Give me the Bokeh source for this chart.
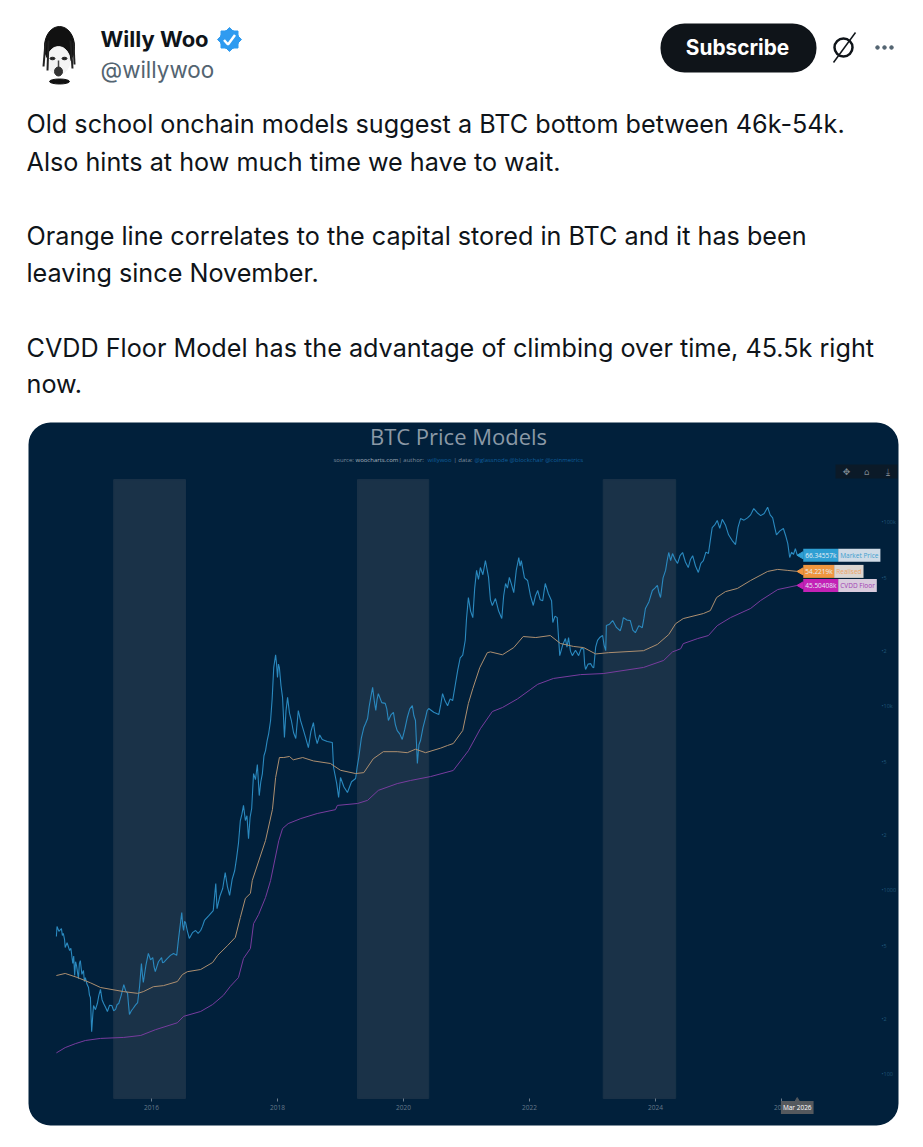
"""BTC price models tweet card, redrawn with Bokeh."""

from math import pi

from bokeh.core.properties import value
from bokeh.embed import file_html
from bokeh.models import BoxAnnotation, FixedTicker, Label, LinearScale, Range1d
from bokeh.plotting import figure
from bokeh.resources import INLINE

# chart data
price_years = [
    2014.49, 2014.50, 2014.53, 2014.57, 2014.585, 2014.60, 2014.62, 2014.63, 2014.66, 2014.70,
    2014.72, 2014.75, 2014.765, 2014.78, 2014.795, 2014.81, 2014.825, 2014.84, 2014.855, 2014.87,
    2014.895, 2014.92, 2014.935, 2014.95, 2014.975, 2015.00, 2015.015, 2015.03, 2015.05, 2015.07,
    2015.08, 2015.11, 2015.14, 2015.165, 2015.19, 2015.215, 2015.24, 2015.27, 2015.30, 2015.335,
    2015.37, 2015.40, 2015.43, 2015.455, 2015.48, 2015.52, 2015.56, 2015.59, 2015.62, 2015.635,
    2015.65, 2015.68, 2015.71, 2015.745, 2015.78, 2015.81, 2015.84, 2015.855, 2015.87, 2015.91,
    2015.95, 2015.985, 2016.02, 2016.04, 2016.06, 2016.11, 2016.16, 2016.175, 2016.19, 2016.245,
    2016.30, 2016.35, 2016.40, 2016.43, 2016.48, 2016.495, 2016.51, 2016.525, 2016.54, 2016.57,
    2016.60, 2016.65, 2016.70, 2016.74, 2016.78, 2016.81, 2016.84, 2016.91, 2016.98, 2017.02,
    2017.04, 2017.085, 2017.13, 2017.17, 2017.205, 2017.24, 2017.28, 2017.32, 2017.35, 2017.38,
    2017.41, 2017.435, 2017.46, 2017.49, 2017.515, 2017.54, 2017.565, 2017.59, 2017.62, 2017.65,
    2017.68, 2017.71, 2017.735, 2017.76, 2017.785, 2017.81, 2017.835, 2017.86, 2017.89, 2017.915,
    2017.94, 2017.97, 2017.985, 2018.00, 2018.015, 2018.03, 2018.055, 2018.08, 2018.095, 2018.11,
    2018.135, 2018.16, 2018.19, 2018.22, 2018.255, 2018.29, 2018.31, 2018.33, 2018.365, 2018.40,
    2018.445, 2018.49, 2018.53, 2018.57, 2018.60, 2018.63, 2018.67, 2018.71, 2018.79, 2018.87,
    2018.89, 2018.94, 2018.97, 2019.00, 2019.055, 2019.11, 2019.175, 2019.24, 2019.265, 2019.29,
    2019.33, 2019.37, 2019.40, 2019.43, 2019.455, 2019.48, 2019.51, 2019.535, 2019.56, 2019.58,
    2019.60, 2019.655, 2019.71, 2019.735, 2019.76, 2019.80, 2019.84, 2019.87, 2019.90, 2019.94,
    2019.98, 2020.02, 2020.06, 2020.10, 2020.14, 2020.165, 2020.19, 2020.22, 2020.245, 2020.27,
    2020.31, 2020.35, 2020.375, 2020.40, 2020.48, 2020.56, 2020.59, 2020.62, 2020.66, 2020.70,
    2020.74, 2020.78, 2020.82, 2020.86, 2020.88, 2020.90, 2020.94, 2020.98, 2021.00, 2021.03,
    2021.065, 2021.10, 2021.13, 2021.16, 2021.19, 2021.22, 2021.26, 2021.30, 2021.325, 2021.35,
    2021.38, 2021.41, 2021.435, 2021.46, 2021.51, 2021.56, 2021.59, 2021.62, 2021.65, 2021.68,
    2021.715, 2021.75, 2021.79, 2021.83, 2021.85, 2021.87, 2021.92, 2021.97, 2022.015, 2022.06,
    2022.095, 2022.13, 2022.17, 2022.21, 2022.23, 2022.25, 2022.30, 2022.35, 2022.37, 2022.405,
    2022.44, 2022.46, 2022.48, 2022.525, 2022.57, 2022.595, 2022.62, 2022.65, 2022.68, 2022.73,
    2022.78, 2022.82, 2022.86, 2022.875, 2022.89, 2022.93, 2022.97, 2023.00, 2023.02, 2023.05,
    2023.08, 2023.12, 2023.16, 2023.185, 2023.21, 2023.22, 2023.27, 2023.32, 2023.38, 2023.44,
    2023.465, 2023.49, 2023.545, 2023.60, 2023.64, 2023.68, 2023.735, 2023.79, 2023.815, 2023.84,
    2023.895, 2023.95, 2023.99, 2024.03, 2024.055, 2024.08, 2024.12, 2024.16, 2024.185, 2024.21,
    2024.24, 2024.27, 2024.31, 2024.35, 2024.39, 2024.43, 2024.475, 2024.52, 2024.555, 2024.59,
    2024.635, 2024.68, 2024.72, 2024.76, 2024.80, 2024.84, 2024.87, 2024.90, 2024.94, 2024.98,
    2025.02, 2025.06, 2025.11, 2025.16, 2025.215, 2025.27, 2025.31, 2025.35, 2025.405, 2025.46,
    2025.51, 2025.56, 2025.615, 2025.67, 2025.725, 2025.78, 2025.82, 2025.86, 2025.89, 2025.92,
    2025.975, 2026.03, 2026.065, 2026.10, 2026.13, 2026.16, 2026.19, 2026.22, 2026.25,
]
price_values = [
    562, 637, 600, 621, 570, 584, 540, 490, 520, 472,
    485, 401, 440, 345, 410, 391, 360, 332, 400, 416,
    350, 367, 320, 336, 310, 297, 270, 262, 171, 215,
    237, 225, 243, 270, 290, 255, 243, 232, 220, 238,
    237, 222, 226, 240, 243, 270, 308, 285, 276, 240,
    212, 222, 229, 238, 246, 300, 401, 350, 316, 390,
    455, 420, 432, 385, 362, 410, 432, 405, 406, 425,
    444, 455, 444, 549, 759, 650, 606, 680, 670, 600,
    549, 590, 606, 585, 606, 640, 687, 730, 778, 1090,
    797, 930, 1025, 1250, 1050, 940, 1150, 1280, 1500, 1800,
    2400, 2600, 2900, 2400, 2550, 1910, 2500, 2790, 4320, 4000,
    4840, 3280, 3900, 4320, 5400, 5760, 6500, 7130, 8390, 11000,
    16250, 19100, 17000, 14400, 17000, 16250, 13000, 11200, 8800, 6780,
    9500, 11200, 9200, 8390, 7200, 6700, 8000, 9510, 8400, 7680,
    6800, 5980, 7300, 8180, 6900, 6290, 7000, 6620, 6450, 6370,
    4660, 3810, 3200, 4110, 3650, 3410, 3900, 4060, 4700, 5280,
    6700, 7680, 8100, 8600, 10000, 11200, 12700, 10800, 9510, 10900,
    11750, 10500, 10400, 9700, 8390, 9000, 9280, 8000, 7400, 7100,
    6620, 7500, 8710, 9700, 10100, 8900, 8390, 4900, 6200, 6530,
    7700, 8710, 9500, 9750, 9300, 9040, 10200, 11750, 10700, 10100,
    11000, 10770, 13000, 15700, 17000, 18400, 19000, 22900, 30000, 39100,
    33000, 30400, 44000, 54900, 49000, 56900, 52000, 62100, 56000, 50300,
    38000, 35400, 37000, 38600, 33000, 30100, 40000, 46600, 44000, 50300,
    46000, 41600, 55000, 64500, 58000, 62100, 50000, 48400, 40000, 35400,
    40000, 42700, 38000, 37600, 42000, 46600, 41000, 37600, 28600, 31000,
    30400, 24000, 18900, 21500, 23400, 21000, 23700, 20000, 18900, 20200,
    18900, 20700, 20600, 17000, 15900, 17000, 17100, 16400, 16250, 21000,
    22900, 23800, 24300, 21500, 20100, 27550, 28000, 29300, 26900, 25800,
    27500, 30400, 29500, 29300, 26000, 25200, 27500, 26800, 30000, 34100,
    37000, 42700, 44000, 45500, 41500, 39100, 50000, 54900, 62000, 68700,
    62000, 67800, 63000, 59900, 66000, 68700, 61000, 56900, 63000, 66000,
    58000, 53500, 60000, 62100, 69000, 67800, 80000, 93900, 97000, 102500,
    93000, 104000, 97000, 85700, 80000, 75900, 94000, 105000, 103000, 106000,
    110000, 119000, 113000, 109000, 112000, 121000, 110000, 106000, 95000, 85700,
    90000, 92800, 85000, 76800, 64500, 69000, 67000, 72000, 66345.57,
]

realised_years = [
    2014.49, 2014.63, 2014.83, 2015.03, 2015.19, 2015.56, 2015.78, 2015.87, 2016.03, 2016.19,
    2016.41, 2016.49, 2016.57, 2016.78, 2016.97, 2017.05, 2017.21, 2017.33, 2017.41, 2017.49,
    2017.57, 2017.60, 2017.81, 2017.92, 2017.97, 2018.03, 2018.10, 2018.19, 2018.25, 2018.40,
    2018.57, 2018.84, 2019.00, 2019.24, 2019.37, 2019.52, 2019.68, 2019.90, 2020.06, 2020.19,
    2020.35, 2020.59, 2020.70, 2020.79, 2020.94, 2021.03, 2021.10, 2021.21, 2021.33, 2021.38,
    2021.57, 2021.75, 2021.90, 2022.10, 2022.33, 2022.49, 2022.70, 2022.86, 2023.05, 2023.25,
    2023.81, 2024.03, 2024.21, 2024.32, 2024.44, 2024.76, 2024.87, 2024.97, 2025.11, 2025.30,
    2025.51, 2025.78, 2025.94, 2026.10, 2026.25,
]
realised_values = [
    345, 354, 336, 315, 297, 282, 276, 282, 300, 304,
    320, 349, 362, 372, 406, 444, 503, 556, 713, 907,
    964, 1135, 1870, 2760, 4110, 5280, 5280, 5350, 5130, 5280,
    5060, 4900, 4500, 4320, 4370, 5200, 5680, 5680, 5610, 5860,
    5610, 5940, 6140, 6290, 7400, 10400, 12500, 16250, 19600, 19800,
    19100, 20900, 24000, 23700, 24300, 22000, 21200, 20900, 19300, 19600,
    20100, 21750, 24600, 28200, 30050, 32000, 33200, 39100, 42100, 43800,
    48400, 54200, 55600, 54900, 54221.9,
]

cvdd_years = [
    2014.49, 2014.63, 2014.79, 2014.95, 2015.19, 2015.56, 2015.83, 2016.06, 2016.41, 2016.51,
    2016.78, 2016.97, 2017.14, 2017.25, 2017.38, 2017.46, 2017.57, 2017.62, 2017.70, 2017.81,
    2017.89, 2018.02, 2018.08, 2018.17, 2018.37, 2018.63, 2018.92, 2018.95, 2019.27, 2019.43,
    2019.60, 2019.90, 2020.11, 2020.43, 2020.79, 2021.03, 2021.22, 2021.41, 2021.57, 2021.81,
    2022.02, 2022.13, 2022.38, 2022.81, 2023.17, 2023.81, 2024.13, 2024.27, 2024.40, 2024.44,
    2024.67, 2024.84, 2024.98, 2025.19, 2025.51, 2025.67, 2025.94, 2026.25,
]
cvdd_values = [
    131, 140, 147, 153, 157, 159, 163, 175, 191, 207,
    220, 240, 269, 301, 336, 427, 484, 660, 740, 916,
    1132, 1864, 2170, 2310, 2460, 2620, 2750, 2900, 2970, 3090,
    3500, 3810, 3960, 4160, 4490, 5750, 7570, 9390, 9870, 11000,
    12400, 13200, 14200, 14900, 15100, 16300, 17800, 19800, 20600, 21950,
    23400, 24300, 27500, 30400, 34100, 37700, 43200, 45504.08,
]

band_starts = [2015.40, 2019.27, 2023.17]
band_ends = [2016.54, 2020.40, 2024.32]
band_low = 74.1
band_high = 171000

year_ticks = [2016, 2018, 2020, 2022, 2024, 2026]
price_ticks = [100, 200, 500, 1000, 2000, 5000, 10000, 20000, 50000, 100000]
price_tick_labels = ["•100", "•2", "•5", "•1000", "•2", "•5", "•10k", "•2", "•5", "•100k"]

tweet_lines = [
    "Old school onchain models suggest a BTC bottom between 46k-54k.",
    "Also hints at how much time we have to wait.",
    "Orange line correlates to the capital stored in BTC and it has been",
    "leaving since November.",
    "CVDD Floor Model has the advantage of climbing over time, 45.5k right",
    "now.",
]
tweet_line_y = [123, 161, 235, 272, 347, 383]

CARD = "#01203b"
BAND = "#1a3248"
PRICE = "#2a89bf"
REALISED = "#ad8f70"
CVDD = "#783c9e"
GREY = "#7d8c9b"
BODY = "Inter"
CHART = "Open Sans"

# one frame over the whole page: years and log price on the main ranges,
# page pixels on the "px" ranges for the tweet around the chart
p = figure(
    width=923, height=1147,
    x_range=Range1d(2013.603, 2028.254), y_range=Range1d(40.1, 68700000),
    y_axis_type="log", y_axis_location="right",
    output_backend="svg", toolbar_location=None, min_border=0,
    background_fill_color="white", border_fill_color="white", outline_line_color=None,
)
p.extra_x_ranges["px"] = Range1d(0, 923)
p.extra_y_ranges["px"] = Range1d(1147, 0)
p.extra_x_scales["px"] = LinearScale()
p.extra_y_scales["px"] = LinearScale()
p.grid.visible = False
px = dict(x_range_name="px", y_range_name="px")


def page_label(x, y, text, size, colour, font=CHART, **kwargs):
    kwargs.setdefault("text_baseline", "middle")
    p.add_layout(Label(x=x, y=y, text=text, text_font=font, text_font_size=size,
                       text_color=colour, **px, **kwargs))


# avatar
p.ellipse([59], [46], width=30, height=40, color="#111111", **px)
p.ellipse([58], [60], width=23, height=28, color="#f4f4f4", **px)
p.ellipse([52, 64], [58, 58], width=5, height=2.5, color="#222222", **px)
p.segment([58], [60], [58], [70], line_color="#444444", line_width=1.5, **px)
p.ellipse([58], [71], width=8, height=9, color="#333333", **px)
p.ellipse([59], [81], width=20, height=5, color="#111111", **px)
p.segment([45, 48, 70, 73], [42, 40, 40, 42], [43, 47, 72, 74], [66, 70, 68, 64],
          line_color="#222222", line_width=2, **px)

page_label(100, 38, "Willy Woo", "22px", "#0f1419", BODY, text_font_style="bold")
page_label(100, 69, "@willywoo", "22.4px", "#536471", BODY)

# verified badge
p.scatter([229, 229], [39, 39], marker="square", size=17, angle=[0, pi / 4], color="#2f9bf0", **px)
p.circle([229], [39], radius=9.5, color="#2f9bf0", **px)
p.line([223.5, 227.5, 234.5], [39.5, 44, 34.5], line_color="white", line_width=2.5, **px)

# subscribe button
p.add_layout(BoxAnnotation(left=660, right=816, top=23, bottom=72, border_radius=24,
                           fill_color="#0f1419", fill_alpha=1, line_color=None, **px))
page_label(737, 47, "Subscribe", "20.8px", "white", BODY, text_font_style="bold", text_align="center")

# slashed circle and dots
p.circle([843], [47], radius=9, fill_color=None, line_color="#0f1419", line_width=2.5, **px)
p.segment([833], [62], [855], [32], line_color="#0f1419", line_width=1.5, **px)
p.circle([877, 884, 891], [47, 47, 47], radius=1.8, color="#536471", **px)

p.text([26] * len(tweet_lines), tweet_line_y, text=tweet_lines, text_font=value(BODY),
       text_font_size="25.2px", text_color="#0f1419", text_baseline="middle", **px)

# chart card
p.add_layout(BoxAnnotation(left=28, right=898, top=422, bottom=1125, border_radius=22,
                           fill_color=CARD, fill_alpha=1, line_color=None, level="underlay", **px))

p.quad(left=band_starts, right=band_ends, bottom=band_low, top=band_high, color=BAND)
p.line(price_years, price_values, line_color=PRICE, line_width=1.1)
p.line(realised_years, realised_values, line_color=REALISED, line_width=1)
p.line(cvdd_years, cvdd_values, line_color=CVDD, line_width=1)

p.xaxis.fixed_location = band_low
p.xaxis.ticker = FixedTicker(ticks=year_ticks)
p.xaxis.minor_tick_line_color = None
p.xaxis.axis_line_color = None
p.xaxis.major_tick_line_color = "#6a7a8a"
p.xaxis.major_tick_in = 0
p.xaxis.major_tick_out = 3
p.xaxis.major_label_text_font = CHART
p.xaxis.major_label_text_font_size = "6.5px"
p.xaxis.major_label_text_color = "#66788a"
p.xaxis.major_label_standoff = 4

p.yaxis.fixed_location = 2027.556
p.yaxis.ticker = FixedTicker(ticks=price_ticks)
p.yaxis.major_label_overrides = dict(zip(price_ticks, price_tick_labels))
p.yaxis.minor_tick_line_color = None
p.yaxis.major_tick_line_color = None
p.yaxis.major_tick_in = 0
p.yaxis.major_tick_out = 0
p.yaxis.axis_line_color = None
p.yaxis.major_label_text_font = CHART
p.yaxis.major_label_text_font_size = "5.5px"
p.yaxis.major_label_text_color = "#1f5578"
p.yaxis.major_label_standoff = 2

# title lines
page_label(458, 435, "BTC Price Models", "22px", "#8b99a6", text_align="center")
subtitle = [
    (333, "source:", GREY), (355, "woocharts.com", "#a9b4bf"), (398, "| author:", GREY),
    (427, "willywoo", "#0f5f9c"), (453, "| data:", GREY),
    (474, "@glassnode @blockchair @coinmetrics", "#0f5f9c"),
]
for left, piece, colour in subtitle:
    page_label(left, 459, piece, "6px", colour)

# toolbar strip
p.add_layout(BoxAnnotation(left=835, right=897, top=464, bottom=478, fill_color="#0b1a28",
                           fill_alpha=1, line_color=None, **px))
for left, glyph in [(846, "✥"), (866, "⌂"), (887, "⤓")]:
    page_label(left, 471, glyph, "9px", "#7d8790", "DejaVu Sans", text_align="center")

# end-of-line flags
flags = [
    (price_years[-1], price_values[-1], "66.34557k", "Market Price", "#2f9fd3", "#cfdbe6", "#3d9ecf", 35),
    (realised_years[-1], realised_values[-1], "54.2219k", "Realised", "#f0963f", "#dbd6d0", "#eda468", 31),
    (cvdd_years[-1], cvdd_values[-1], "45.50408k", "CVDD Floor", "#c322b6", "#d9cbdd", "#a23fb3", 35),
]
for year, level, number, name, colour, pale, ink, step in flags:
    p.scatter([year + 0.06], [level], marker="triangle", size=7, angle=pi / 2, color=colour)
    p.add_layout(Label(x=year, y=level, x_offset=6, text=number, text_font=CHART,
                       text_font_size="6.5px", text_color="#e6eef5", text_baseline="middle",
                       background_fill_color=colour, padding=2))
    p.add_layout(Label(x=year, y=level, x_offset=6 + step, text=name, text_font=CHART,
                       text_font_size="6.5px", text_color=ink, text_baseline="middle",
                       background_fill_color=pale, padding=2))

# date tag under the last point
p.scatter([price_years[-1]], [band_low * 0.975], marker="triangle", size=5, color="#55595e")
p.add_layout(Label(x=price_years[-1], y=band_low, y_offset=-9, text="Mar 2026", text_font=CHART,
                   text_font_size="6.5px", text_color="white", text_align="center",
                   text_baseline="middle", background_fill_color="#55595e", padding=2))

open("out.html", "w").write(file_html(p, INLINE))
